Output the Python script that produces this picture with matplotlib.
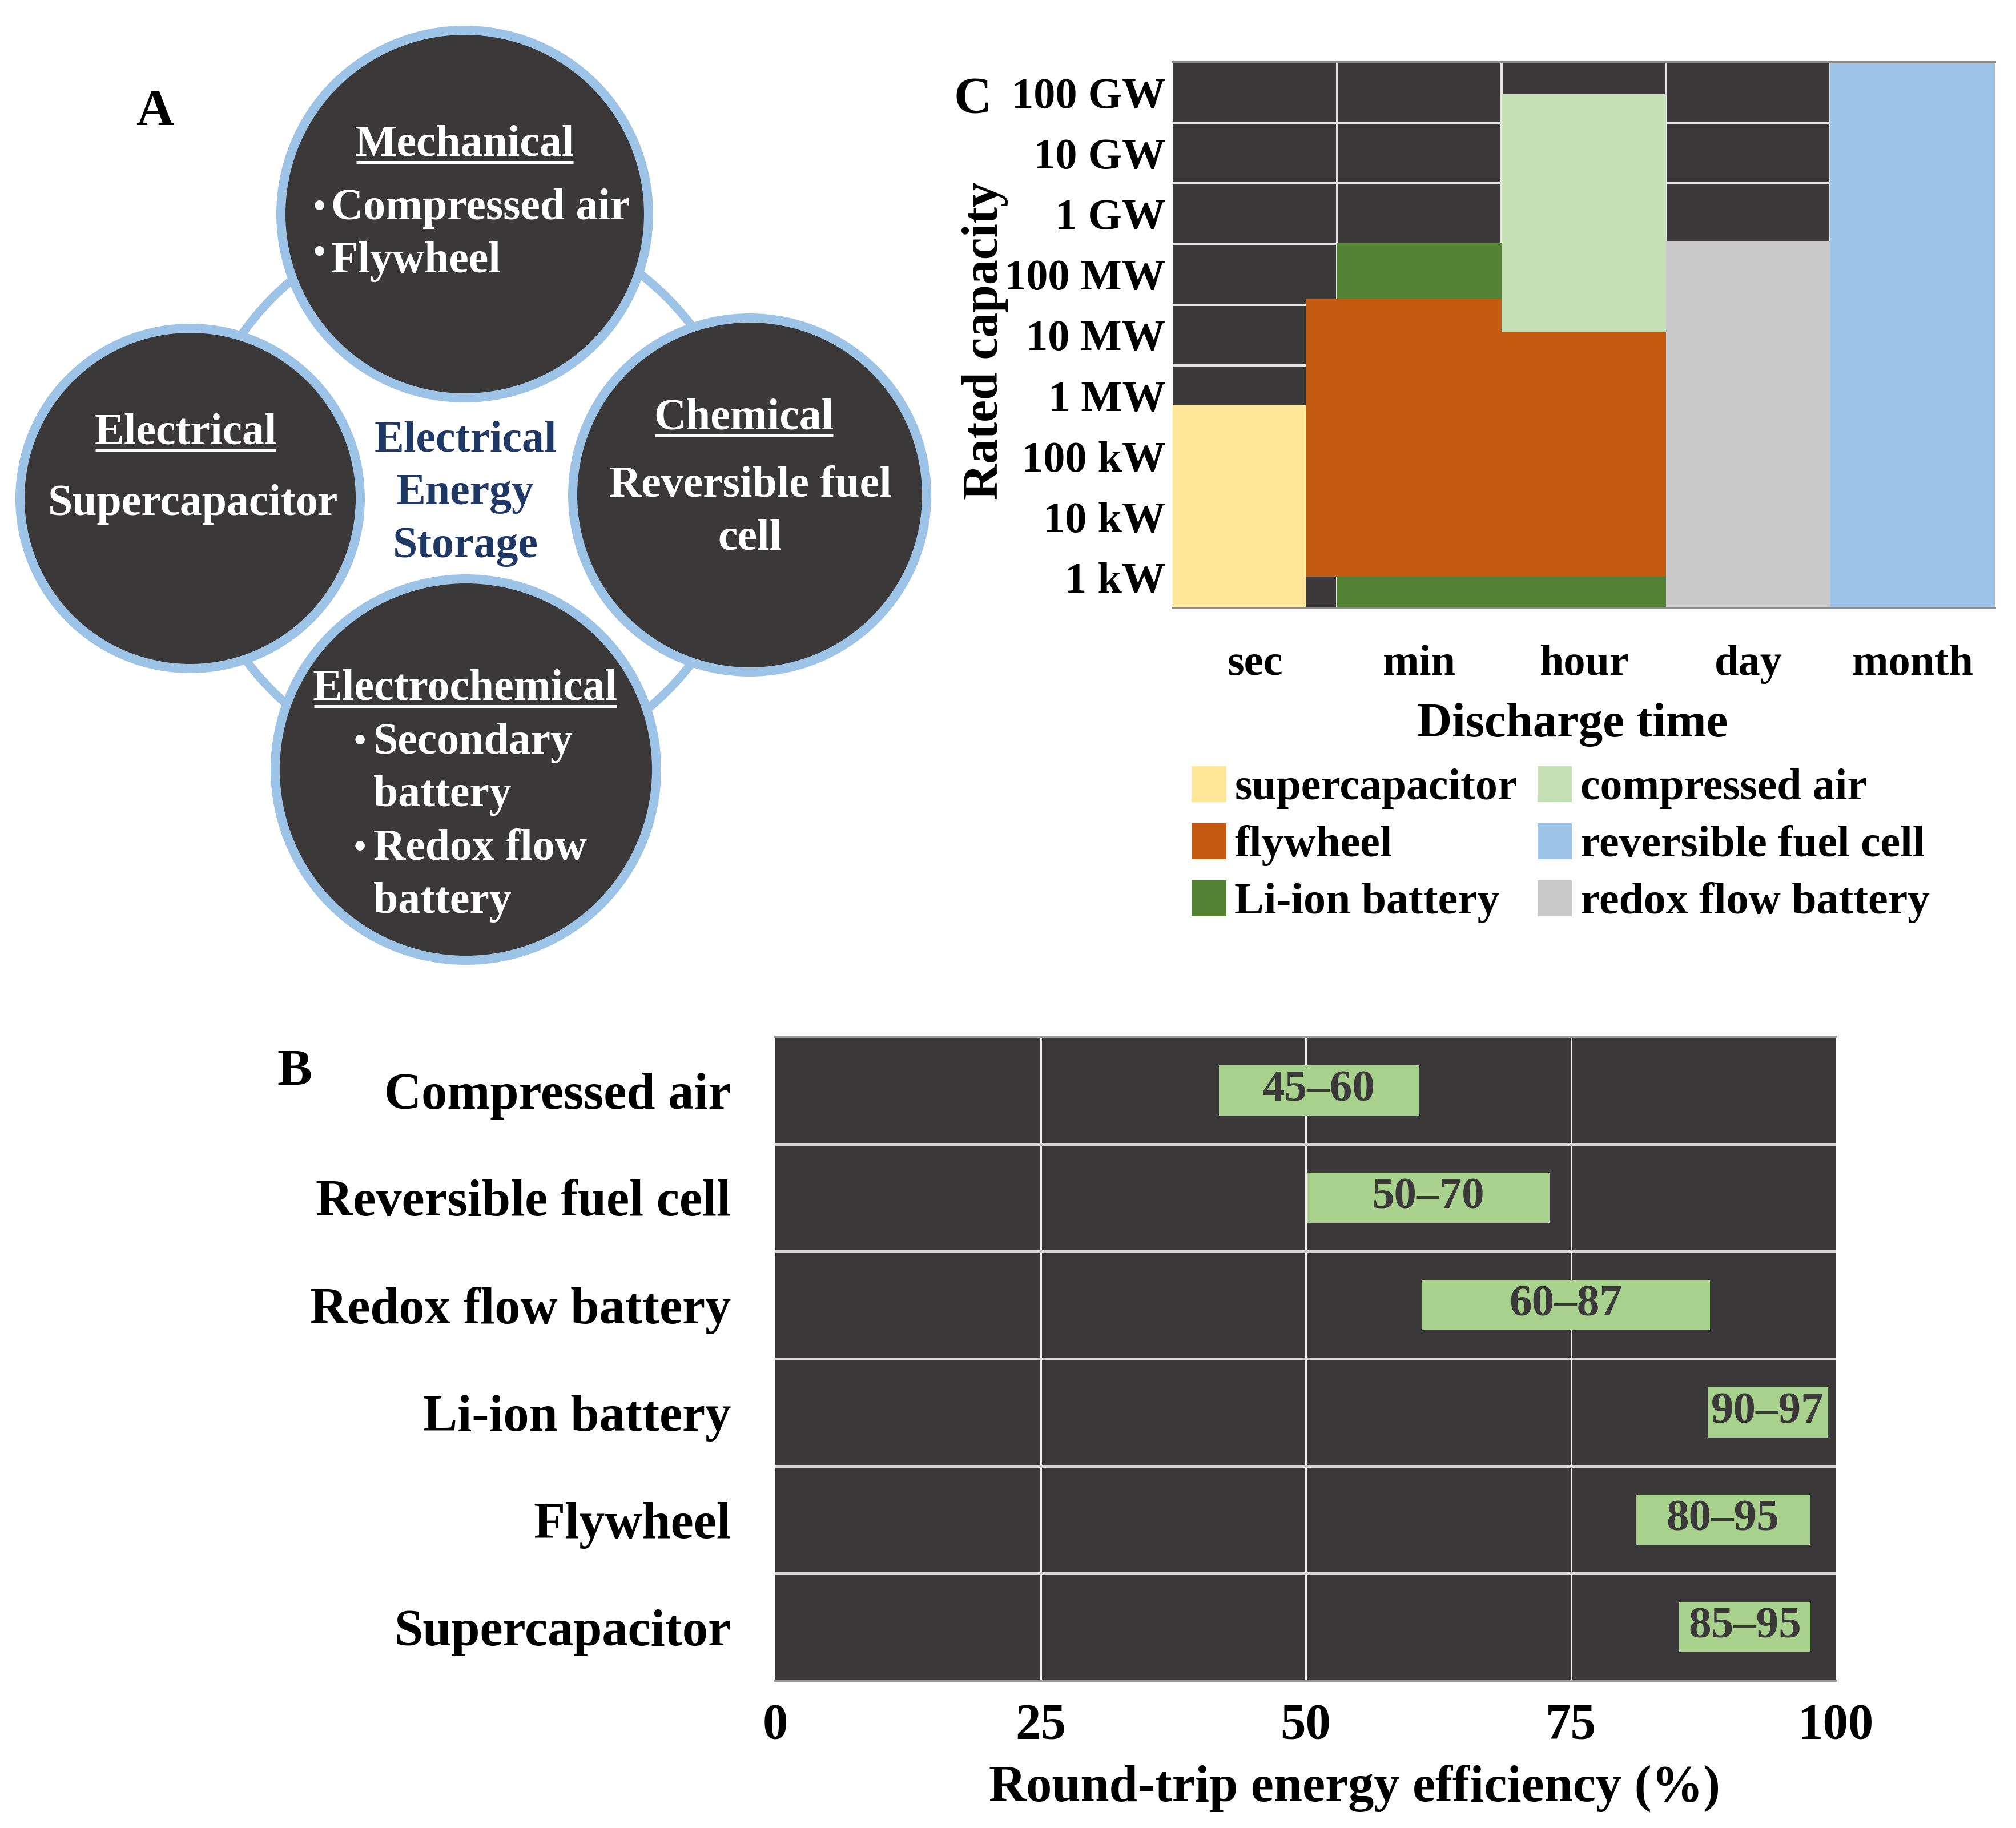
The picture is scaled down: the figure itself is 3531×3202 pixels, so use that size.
import numpy as np
import matplotlib
import matplotlib.pyplot as plt
from matplotlib.patches import Circle, Patch
matplotlib.use('agg')

W, H = 3531, 3202
PT = 0.72  # points per pixel at dpi 100

DARK = '#3A3838'
RING = '#9DC3E6'
NAVY = '#203864'

# Panel C: rated capacity vs discharge time
time_labels = ['sec', 'min', 'hour', 'day', 'month']
power_labels = ['1 kW', '10 kW', '100 kW', '1 MW', '10 MW', '100 MW',
                '1 GW', '10 GW', '100 GW']
c_tech = ['Li-ion battery', 'flywheel', 'compressed air', 'supercapacitor',
          'redox flow battery', 'reversible fuel cell']
c_x0 = [1.0, 0.81, 2.0, 0.0, 3.0, 4.0]
c_x1 = [3.0, 3.0, 3.0, 0.81, 4.0, 5.0]
c_y0 = [0.0, 0.52, 4.55, 0.0, 0.0, 0.0]
c_y1 = [6.02, 5.09, 8.47, 3.34, 6.04, 9.0]
c_colors = ['#548235', '#C55A11', '#C5E0B4', '#FFE699', '#C9C9C9', '#9DC3E6']
legend_order = ['supercapacitor', 'flywheel', 'Li-ion battery',
                'compressed air', 'reversible fuel cell', 'redox flow battery']

# Panel B: round-trip efficiency
b_tech = ['Compressed air', 'Reversible fuel cell', 'Redox flow battery',
          'Li-ion battery', 'Flywheel', 'Supercapacitor']
b_low = [41.8, 50.1, 60.9, 87.9, 81.1, 85.2]
b_high = [60.7, 73.0, 88.1, 99.2, 97.5, 97.6]
b_text = ['45–60', '50–70', '60–87', '90–97', '80–95', '85–95']
b_ticks = [0, 25, 50, 75, 100]

plt.rcParams['font.family'] = ['Liberation Serif', 'DejaVu Serif']
plt.rcParams['font.weight'] = 'bold'
plt.rcParams['axes.labelweight'] = 'bold'

fig = plt.figure(figsize=(W / 100, H / 100), dpi=100)

# ---------------- Panel A (drawn in pixel coordinates) ----------------
ax_a = fig.add_axes([0, 0, 1, 1])
ax_a.set_xlim(0, W)
ax_a.set_ylim(H, 0)
ax_a.axis('off')

ax_a.add_patch(Circle((823, 866), 488, fill=False, ec=RING, lw=15 * PT, zorder=1))
for cx, cy, r in [(814, 375, 330), (333, 873, 306), (1313, 867, 318), (816, 1348, 342)]:
    ax_a.add_patch(Circle((cx, cy), r - 8, fc=DARK, ec=RING, lw=16 * PT, zorder=2))

renderer = fig.canvas.get_renderer()


def circle_text(x, y, s, ha='center', underline=False, color='white', size=56):
    t = ax_a.text(x, y, s, ha=ha, va='baseline', color=color, fontsize=size, zorder=3)
    if underline:
        bb = t.get_window_extent(renderer)
        ax_a.plot([bb.x0 + 2, bb.x1 - 2], [y + 12, y + 12], color=color,
                  lw=5 * PT, solid_capstyle='butt', zorder=3)
    return t


circle_text(814, 272, 'Mechanical', underline=True)
circle_text(549, 380, '•', ha='left', size=44)
circle_text(580, 384, 'Compressed air', ha='left')
circle_text(549, 460, '•', ha='left', size=44)
circle_text(580, 477, 'Flywheel', ha='left')

circle_text(325, 777, 'Electrical', underline=True)
circle_text(338, 902, 'Supercapacitor')

circle_text(1303, 751, 'Chemical', underline=True)
circle_text(1314, 870, 'Reversible fuel')
circle_text(1314, 962, 'cell')

circle_text(815, 1225, 'Electrochemical', underline=True)
circle_text(620, 1316, '•', ha='left', size=44)
circle_text(654, 1320, 'Secondary', ha='left')
circle_text(654, 1412, 'battery', ha='left')
circle_text(620, 1502, '•', ha='left', size=44)
circle_text(654, 1506, 'Redox flow', ha='left')
circle_text(654, 1599, 'battery', ha='left')

for yb, s in zip([790, 883, 976], ['Electrical', 'Energy', 'Storage']):
    circle_text(815, yb, s, color=NAVY)

ax_a.text(271, 219, 'A', ha='center', va='baseline', fontsize=66)
ax_a.text(1704, 198, 'C', ha='center', va='baseline', fontsize=66)
ax_a.text(516, 1901, 'B', ha='center', va='baseline', fontsize=66)

# ---------------- Panel C ----------------
ax_c = fig.add_axes([2054 / W, 1 - 1065 / H, 1440 / W, 956 / H])
ax_c.set_facecolor(DARK)
ax_c.set_xlim(0, 5)
ax_c.set_ylim(0, 9)
ax_c.set_xticks(np.arange(len(time_labels)) + 0.5, time_labels, fontsize=55)
ax_c.set_yticks(np.arange(len(power_labels)) + 0.5, power_labels, fontsize=55)
ax_c.set_xticks(np.arange(1, 5), minor=True)
ax_c.set_yticks(np.arange(1, 9), minor=True)
ax_c.tick_params(which='both', length=0)
ax_c.tick_params(axis='x', pad=46)
ax_c.tick_params(axis='y', pad=9)
ax_c.grid(which='minor', color='#E4E4E4', lw=4 * PT)
ax_c.set_axisbelow(True)
for side in ['left', 'right']:
    ax_c.spines[side].set_visible(False)
for side in ['top', 'bottom']:
    ax_c.spines[side].set_color('#8C8C8C')
    ax_c.spines[side].set_linewidth(4 * PT)

widths = np.array(c_x1) - np.array(c_x0)
heights = np.array(c_y1) - np.array(c_y0)
ax_c.bar(c_x0, heights, width=widths, bottom=c_y0, align='edge',
         color=c_colors, zorder=2)

ax_c.set_xlabel('Discharge time', fontsize=61)
ax_c.xaxis.set_label_coords(0.486, -0.174)
ax_c.set_ylabel('Rated capacity', fontsize=63)
ax_c.yaxis.set_label_coords(-0.20, 0.49)

handles = [Patch(facecolor=c_colors[c_tech.index(n)], label=n) for n in legend_order]
fig.legend(handles=handles, loc='upper left', bbox_to_anchor=(2087 / W, 1 - 1342 / H),
           ncol=2, frameon=False, fontsize=56, handlelength=0.78, handleheight=0.86,
           handletextpad=0.19, columnspacing=0.45, labelspacing=0.32,
           borderpad=0, borderaxespad=0)

# ---------------- Panel B ----------------
ax_b = fig.add_axes([1358 / W, 1 - 2944 / H, 1858 / W, 1128 / H])
ax_b.set_facecolor(DARK)
rows = np.arange(len(b_tech))
ax_b.set_xlim(0, 100)
ax_b.set_ylim(len(b_tech) - 0.5, -0.5)
ax_b.set_xticks(b_ticks, [str(v) for v in b_ticks], fontsize=64)
ax_b.set_yticks(rows, b_tech, fontsize=65)
ax_b.tick_params(length=0)
ax_b.tick_params(axis='x', pad=28)
ax_b.tick_params(axis='y', pad=56)
for v in b_ticks[1:-1]:
    ax_b.axvline(v, color='#F2F2F2', lw=3 * PT, zorder=1)
for r in rows[1:]:
    ax_b.axhline(r - 0.5, color='#D6D6D6', lw=5 * PT, zorder=1)
for side in ['left', 'right']:
    ax_b.spines[side].set_visible(False)
for side in ['top', 'bottom']:
    ax_b.spines[side].set_color('#9A9A9A')
    ax_b.spines[side].set_linewidth(4 * PT)

ax_b.barh(rows, np.array(b_high) - np.array(b_low), left=b_low, height=0.47,
          color='#A9D18E', zorder=3)
for r, lo, hi, s in zip(rows, b_low, b_high, b_text):
    ax_b.text((lo + hi) / 2, r, s, ha='center', va='center', color=DARK,
              fontsize=57, zorder=4)

ax_b.set_xlabel('Round-trip energy efficiency (%)', fontsize=65)
ax_b.xaxis.set_label_coords(0.546, -0.130)

fig.savefig('out.png', dpi=100)
